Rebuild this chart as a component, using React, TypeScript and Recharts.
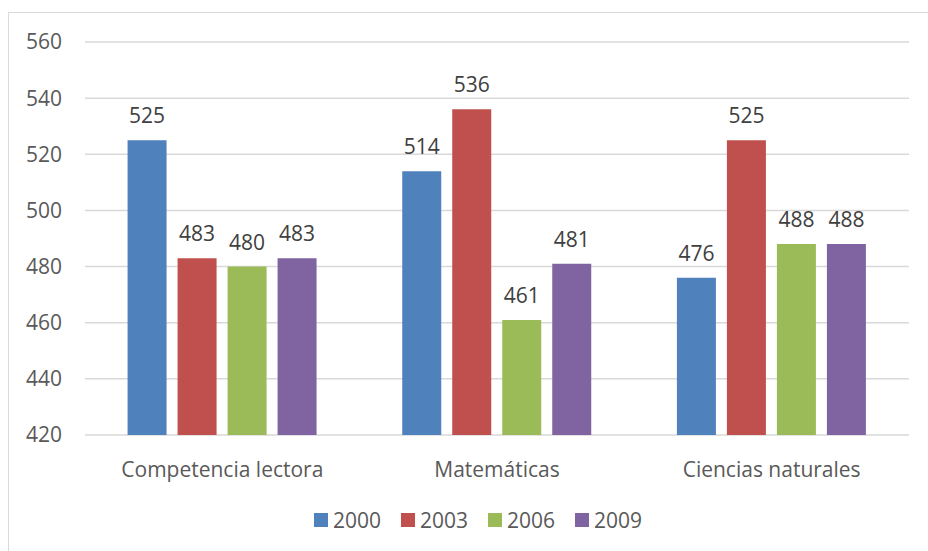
import React from "react";
import { BarChart, Bar, XAxis, YAxis, CartesianGrid, Legend, LabelList } from "recharts";

const categories = ["Competencia lectora", "Matemáticas", "Ciencias naturales"];
const years = ["2000", "2003", "2006", "2009"];
const s2000 = [525, 514, 476];
const s2003 = [483, 536, 525];
const s2006 = [480, 461, 488];
const s2009 = [483, 481, 488];
const yTicks = [420, 440, 460, 480, 500, 520, 540, 560];
const colors = ["#4F81BD", "#C0504D", "#9BBB59", "#8064A2"];

const seriesValues = [s2000, s2003, s2006, s2009];
const data = categories.map((c, i) => {
  const row: Record<string, string | number> = { name: c };
  years.forEach((y, j) => {
    row[y] = seriesValues[j][i];
  });
  return row;
});

const FONT = "'Open Sans', sans-serif";

const LegendContent = () => (
  <div
    style={{
      height: 30,
      display: "flex",
      justifyContent: "center",
      alignItems: "center",
      marginLeft: 38,
      fontFamily: FONT,
      fontSize: 21,
      color: "#595959",
    }}
  >
    {years.map((y, i) => (
      <div key={y} style={{ display: "flex", alignItems: "center", marginRight: i < years.length - 1 ? 20 : 0 }}>
        <div style={{ width: 14, height: 14, background: colors[i], marginRight: 5 }} />
        <span>{y}</span>
      </div>
    ))}
  </div>
);

export default function App() {
  return (
    <div
      style={{
        position: "fixed",
        left: 8,
        top: 12,
        width: 925,
        height: 545,
        border: "1px solid #d9d9d9",
        background: "#fff",
      }}
    >
      <BarChart
        width={924}
        height={540}
        data={data}
        margin={{ top: 29, right: 24, bottom: 18, left: 0 }}
        barCategoryGap="15.5%"
        barGap={11}
      >
        <CartesianGrid vertical={false} stroke="#d9d9d9" strokeWidth={1.5} />
        <XAxis
          dataKey="name"
          axisLine={false}
          tickLine={false}
          tickSize={0}
          tickMargin={27}
          height={70}
          tick={{ fill: "#595959", fontSize: 21, fontFamily: FONT }}
        />
        <YAxis
          domain={[420, 560]}
          ticks={yTicks}
          axisLine={false}
          tickLine={false}
          tickSize={0}
          tickMargin={23}
          width={76}
          tick={{ fill: "#595959", fontSize: 21, fontFamily: FONT }}
        />
        <Legend verticalAlign="bottom" content={<LegendContent />} />
        {years.map((y, i) => (
          <Bar key={y} dataKey={y} fill={colors[i]} isAnimationActive={false}>
            <LabelList
              dataKey={y}
              position="top"
              offset={17}
              fill="#404040"
              fontSize={21}
              fontFamily={FONT}
            />
          </Bar>
        ))}
      </BarChart>
    </div>
  );
}
